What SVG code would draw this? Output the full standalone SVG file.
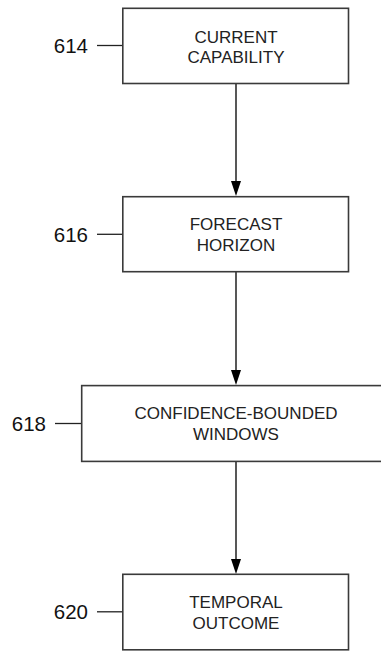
<svg xmlns="http://www.w3.org/2000/svg" width="381" height="652" viewBox="0 0 381 652">
<defs>
<style>
.box{fill:#fff;stroke:#3a3a3a;stroke-width:1.6}
.t{font-family:"Liberation Sans",Arial,sans-serif;font-size:17px;fill:#222;text-anchor:middle}
.ref{font-family:"Liberation Sans",Arial,sans-serif;font-size:20.5px;fill:#111;text-anchor:end}
.lead{stroke:#222;stroke-width:1.3}
.conn{stroke:#111;stroke-width:1.4;fill:none}
.head{fill:#000}
</style>
</defs>
<rect width="381" height="652" fill="#fff"/>
<g id="connectors">
<line x1="236" y1="84" x2="236" y2="182" class="conn"/>
<path class="head" d="M231,181 L241,181 L236,196 Z"/>
<line x1="236" y1="272" x2="236" y2="371" class="conn"/>
<path class="head" d="M231,370 L241,370 L236,385 Z"/>
<line x1="236" y1="462" x2="236" y2="560" class="conn"/>
<path class="head" d="M231,559 L241,559 L236,574 Z"/>
</g>
<g id="n614">
<rect class="box" x="122.8" y="8.3" width="225.7" height="75.2"/>
<text class="t" x="236" y="42.5">CURRENT</text>
<text class="t" x="236" y="62.7">CAPABILITY</text>
<line class="lead" x1="97" y1="45.5" x2="122" y2="45.5"/>
<text class="ref" x="88" y="53">614</text>
</g>
<g id="n616">
<rect class="box" x="122.8" y="196.7" width="225.7" height="75"/>
<text class="t" x="236" y="230">FORECAST</text>
<text class="t" x="236" y="251">HORIZON</text>
<line class="lead" x1="97" y1="234.3" x2="122" y2="234.3"/>
<text class="ref" x="88" y="242">616</text>
</g>
<g id="n618">
<rect class="box" x="81.7" y="385.6" width="308" height="75.8"/>
<text class="t" x="236" y="419">CONFIDENCE-BOUNDED</text>
<text class="t" x="236" y="440">WINDOWS</text>
<line class="lead" x1="55" y1="423.5" x2="81" y2="423.5"/>
<text class="ref" x="46" y="431">618</text>
</g>
<g id="n620">
<rect class="box" x="122.8" y="574.3" width="225.7" height="75.5"/>
<text class="t" x="236" y="608">TEMPORAL</text>
<text class="t" x="236" y="629">OUTCOME</text>
<line class="lead" x1="97" y1="611.8" x2="122" y2="611.8"/>
<text class="ref" x="88" y="619">620</text>
</g>
</svg>
